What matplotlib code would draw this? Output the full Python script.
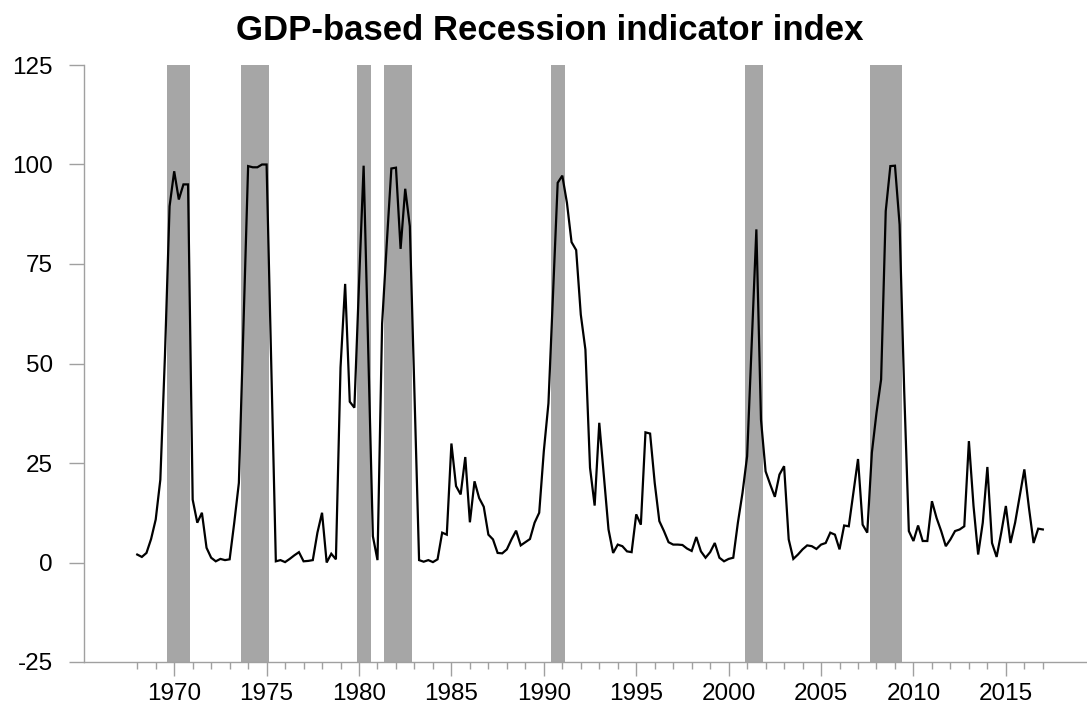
import matplotlib
matplotlib.use("Agg")
import matplotlib.pyplot as plt
import numpy as np

plt.rcParams['font.family'] = ['Liberation Sans', 'DejaVu Sans']

# ---------------- data ----------------
start_year = 1968          # first quarter shown: 1968Q1
start_quarter = 1

index_values = [
    # 1968
    2.0, 1.4, 2.4, 5.9,
    # 1969
    10.8, 20.8, 52.0, 89.5,
    # 1970
    98.3, 91.2, 95.0, 95.0,
    # 1971
    15.8, 10.0, 12.5, 3.7,
    # 1972
    1.2, 0.3, 0.9, 0.6,
    # 1973
    0.8, 10.0, 20.0, 60.0,
    # 1974
    99.6, 99.3, 99.3, 100.0,
    # 1975
    100.0, 50.0, 0.3, 0.6,
    # 1976
    0.1, 0.9, 1.8, 2.6,
    # 1977
    0.3, 0.4, 0.6, 7.5,
    # 1978
    12.5, 0.0, 2.2, 0.8,
    # 1979
    49.0, 70.0, 40.4, 38.9,
    # 1980
    70.0, 99.7, 53.0, 6.6,
    # 1981
    0.6, 60.0, 80.0, 99.0,
    # 1982
    99.2, 78.8, 93.9, 84.5,
    # 1983
    43.0, 0.6, 0.2, 0.6,
    # 1984
    0.1, 0.8, 7.5, 7.0,
    # 1985
    29.9, 19.2, 17.1, 26.5,
    # 1986
    10.1, 20.4, 16.2, 14.0,
    # 1987
    7.0, 5.8, 2.4, 2.3,
    # 1988
    3.3, 5.8, 8.0, 4.3,
    # 1989
    5.1, 5.9, 10.0, 12.5,
    # 1990
    28.0, 40.0, 68.0, 95.4,
    # 1991
    97.2, 90.4, 80.5, 78.5,
    # 1992
    62.3, 53.5, 23.8, 14.3,
    # 1993
    35.1, 21.7, 8.3, 2.4,
    # 1994
    4.5, 4.1, 2.8, 2.6,
    # 1995
    12.1, 9.5, 32.7, 32.4,
    # 1996
    20.0, 10.4, 7.9, 5.1,
    # 1997
    4.5, 4.5, 4.4, 3.5,
    # 1998
    2.9, 6.4, 2.8, 1.2,
    # 1999
    2.6, 4.9, 1.2, 0.3,
    # 2000
    0.9, 1.2, 10.0, 17.5,
    # 2001
    26.7, 55.0, 83.7, 35.9,
    # 2002
    22.9, 19.6, 16.5, 22.1,
    # 2003
    24.2, 5.8, 0.9, 2.0,
    # 2004
    3.3, 4.3, 4.1, 3.4,
    # 2005
    4.5, 4.9, 7.5, 7.0,
    # 2006
    3.3, 9.3, 9.1, 17.5,
    # 2007
    26.0, 9.5, 7.5, 27.6,
    # 2008
    37.6, 46.0, 88.3, 99.6,
    # 2009
    99.7, 84.9, 43.0, 7.9,
    # 2010
    5.4, 9.3, 5.4, 5.4,
    # 2011
    15.4, 11.2, 7.9, 4.1,
    # 2012
    5.8, 7.9, 8.3, 9.1,
    # 2013
    30.5, 14.2, 2.0, 10.0,
    # 2014
    24.0, 4.9, 1.4, 7.5,
    # 2015
    14.2, 4.9, 10.0, 16.7,
    # 2016
    23.4, 13.7, 4.9, 8.5,
    # 2017
    8.3,
]

# NBER recessions (peak quarter, trough quarter)
recessions = [
    ("1969Q4", "1970Q4"),
    ("1973Q4", "1975Q1"),
    ("1980Q1", "1980Q3"),
    ("1981Q3", "1982Q4"),
    ("1990Q3", "1991Q1"),
    ("2001Q1", "2001Q4"),
    ("2007Q4", "2009Q2"),
]

y_ticks = [-25, 0, 25, 50, 75, 100, 125]
x_major_years = [1970, 1975, 1980, 1985, 1990, 1995, 2000, 2005, 2010, 2015]
x_minor_years = [y for y in range(1968, 2018) if y not in x_major_years]

title_text = "GDP-based Recession indicator index"

# ---------------- helpers ----------------
def qpos(label):
    yr, q = label.split("Q")
    return int(yr) + (int(q) - 1) / 4.0

n = len(index_values)
x_vals = np.array([start_year + (start_quarter - 1) / 4.0 + i * 0.25 for i in range(n)])

# ---------------- figure ----------------
W, H = 1087, 706
fig = plt.figure(figsize=(W / 100, H / 100), dpi=100)
ax = fig.add_axes([84 / W, (H - 662) / H, 1 - 84 / W, (662 - 65) / H])

shade_color = "#a6a6a6"
half_bar = 0.125
for a, b in recessions:
    ax.axvspan(qpos(a) - half_bar, qpos(b) + half_bar, color=shade_color, lw=0, zorder=1)

ax.plot(x_vals, index_values, color="black", lw=1.6, zorder=3, solid_joinstyle="miter")

ax.set_xlim(1965.12, 2019.39)
ax.set_ylim(-25, 125)

for s in ("top", "right"):
    ax.spines[s].set_visible(False)
axis_gray = "#a0a0a0"
for s in ("left", "bottom"):
    ax.spines[s].set_color(axis_gray)
    ax.spines[s].set_linewidth(1.0)

ax.set_yticks(y_ticks)
ax.set_yticklabels([str(v) for v in y_ticks])
ax.set_xticks(x_major_years)
ax.set_xticklabels([str(v) for v in x_major_years])
ax.set_xticks(x_minor_years, minor=True)

ax.tick_params(axis="y", direction="out", length=10.5, width=1.0, color=axis_gray,
               labelsize=17.5, pad=12)
ax.tick_params(axis="x", which="major", direction="out", length=10, width=1.0,
               color=axis_gray, labelsize=17.5, pad=5)
ax.tick_params(axis="x", which="minor", direction="out", length=5, width=1.0,
               color=axis_gray)

fig.text(550 / W, 1 - 31 / H, title_text, ha="center", va="center",
         fontsize=25, fontweight="bold")

fig.savefig("out.png", dpi=100)
